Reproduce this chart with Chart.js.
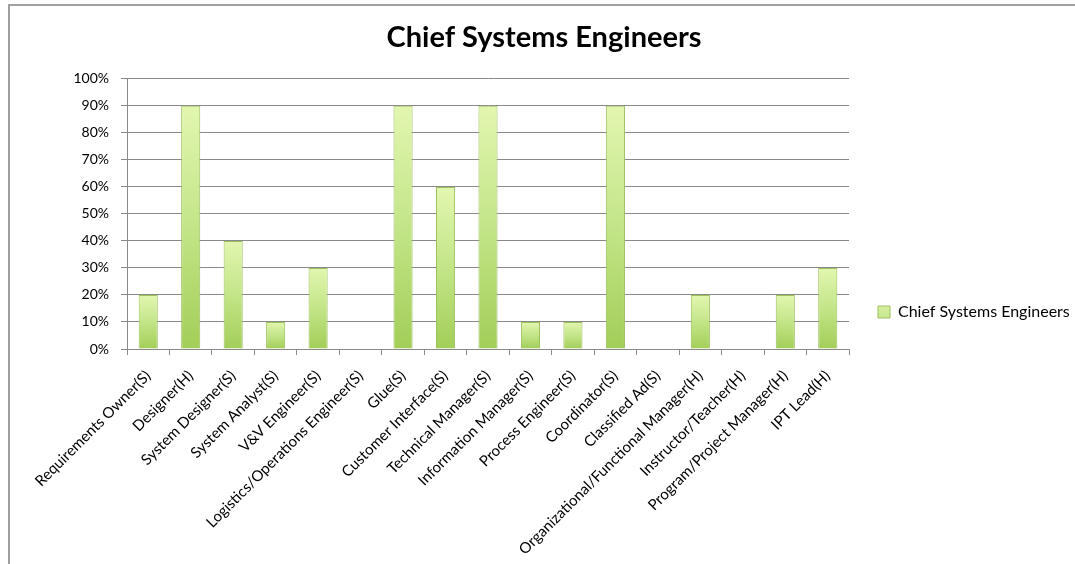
<!DOCTYPE html>
<html>
<head>
<meta charset="utf-8">
<script src="https://cdn.jsdelivr.net/npm/chart.js@4/dist/chart.umd.min.js"></script>
<style>
  html, body { margin: 0; padding: 0; background: #ffffff; }
  #wrap { position: relative; width: 1075px; height: 564px; overflow: hidden; }
  #frame { position: absolute; left: 8px; top: 4px; width: 1200px; height: 700px;
           border-left: 2px solid #a0a0a0; border-top: 2px solid #a0a0a0; box-sizing: border-box; }
  canvas { position: absolute; left: 0; top: 0; }
</style>
</head>
<body>
<div id="wrap">
  <div id="frame"></div>
  <canvas id="c" width="1075" height="564"></canvas>
</div>
<script>
// Roles held by chief systems engineers (S = soft, H = hard role)
const roles = [
  'Requirements Owner(S)', 'Designer(H)', 'System Designer(S)', 'System Analyst(S)',
  'V&V Engineer(S)', 'Logistics/Operations Engineer(S)', 'Glue(S)', 'Customer Interface(S)',
  'Technical Manager(S)', 'Information Manager(S)', 'Process Engineer(S)', 'Coordinator(S)',
  'Classified Ad(S)', 'Organizational/Functional Manager(H)', 'Instructor/Teacher(H)',
  'Program/Project Manager(H)', 'IPT Lead(H)'
];
// Share of chief systems engineers in each role (percent)
const chiefShare = [20, 90, 40, 10, 30, 0, 90, 60, 90, 10, 10, 90, 0, 20, 0, 20, 30];
const yTicks = [0, 10, 20, 30, 40, 50, 60, 70, 80, 90, 100];
const seriesName = 'Chief Systems Engineers';

const FONT = 'Lato, "Open Sans", sans-serif';

// vertical pale-to-green fill, one gradient per bar
function barFill(ctx) {
  const chart = ctx.chart;
  if (ctx.type !== 'data' || !chart.chartArea) return '#b3d878';
  const y = chart.scales.y;
  const top = y.getPixelForValue(ctx.raw);
  const base = y.getPixelForValue(0);
  if (!isFinite(top) || base - top < 1) return '#b3d878';
  const g = chart.ctx.createLinearGradient(0, top, 0, base);
  g.addColorStop(0, '#e2f6b0');
  g.addColorStop(0.5, '#c3e588');
  g.addColorStop(1, '#a2ce58');
  return g;
}

new Chart(document.getElementById('c'), {
  type: 'bar',
  data: {
    labels: roles,
    datasets: [{
      label: seriesName,
      data: chiefShare,
      backgroundColor: barFill,
      borderColor: '#9cc05e',
      borderWidth: 1,
      barPercentage: 0.45,
      categoryPercentage: 1.0
    }]
  },
  options: {
    responsive: false,
    animation: false,
    layout: { padding: { left: 13, right: 0, top: 0, bottom: 0 } },
    plugins: {
      title: {
        display: true,
        text: 'Chief Systems Engineers',
        color: '#000000',
        font: { family: FONT, size: 29, weight: 'bold' },
        padding: { top: 20, bottom: 24 }
      },
      legend: {
        position: 'right',
        align: 'end',
        fullSize: false,
        maxWidth: 226,
        labels: {
          color: '#000000',
          font: { family: FONT, size: 16 },
          boxWidth: 12,
          boxHeight: 12,
          padding: 29
        }
      },
      tooltip: { enabled: false }
    },
    scales: {
      x: {
        offset: true,
        grid: {
          offset: true,
          drawOnChartArea: false,
          drawTicks: true,
          tickLength: 6,
          color: '#8a8a8a'
        },
        border: { color: '#8a8a8a', width: 1 },
        ticks: {
          color: '#000000',
          font: { family: FONT, size: 15 },
          minRotation: 45,
          maxRotation: 45,
          autoSkip: false,
          padding: 12
        },
        afterFit: (s) => { s.height = 215; }
      },
      y: {
        min: 0,
        max: 100,
        afterBuildTicks: (s) => { s.ticks = yTicks.map(v => ({ value: v })); },
        grid: { color: '#8a8a8a', tickLength: 6, lineWidth: 1 },
        border: { color: '#8a8a8a', width: 1 },
        ticks: {
          color: '#000000',
          font: { family: FONT, size: 14 },
          padding: 12,
          callback: (v) => v + '%'
        },
        afterFit: (s) => { s.width = 114; }
      }
    }
  }
});
</script>
</body>
</html>
